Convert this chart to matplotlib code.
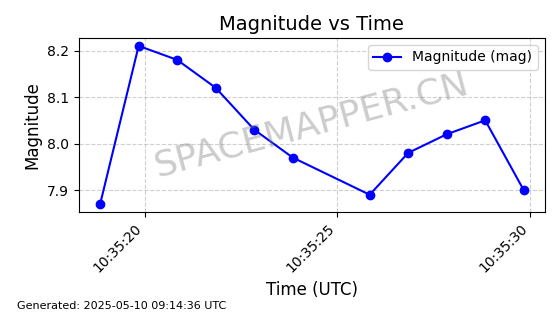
import numpy as np
import matplotlib
matplotlib.use("Agg")
import matplotlib.pyplot as plt
import matplotlib.dates as mdates
from datetime import datetime, timedelta

times = ["10:35:18.84", "10:35:19.84", "10:35:20.84", "10:35:21.84", "10:35:22.84",
         "10:35:23.84", "10:35:25.84", "10:35:26.84", "10:35:27.84", "10:35:28.84",
         "10:35:29.84"]
magnitudes = [7.87, 8.21, 8.18, 8.12, 8.03, 7.97, 7.89, 7.98, 8.02, 8.05, 7.90]

t = [datetime.strptime("2025-05-10 " + s, "%Y-%m-%d %H:%M:%S.%f") for s in times]

fig, ax = plt.subplots(figsize=(5.6, 3.14), dpi=100)
fig.subplots_adjust(left=0.141, right=0.973, top=0.879, bottom=0.325)

ax.plot(t, magnitudes, "o-", color="blue", markersize=6, linewidth=1.5, label="Magnitude (mag)")

ax.xaxis.set_major_locator(mdates.SecondLocator(bysecond=range(0, 60, 5)))
ax.xaxis.set_major_formatter(mdates.DateFormatter("%H:%M:%S"))
plt.setp(ax.get_xticklabels(), rotation=45, ha="right")

ax.set_title("Magnitude vs Time", fontsize=14)
ax.set_xlabel("Time (UTC)", fontsize=12)
ax.set_ylabel("Magnitude", fontsize=12)
ax.grid(True, linestyle="--", alpha=0.6)
ax.legend(loc="upper right")

# watermark
ax.text(0.5, 0.5, "SPACEMAPPER.CN", transform=ax.transAxes, fontsize=26,
        color="gray", alpha=0.4, ha="center", va="center", rotation=15)

fig.text(0.03, 0.016, "Generated: 2025-05-10 09:14:36 UTC", fontsize=8)

fig.savefig("out.png", dpi=100)
